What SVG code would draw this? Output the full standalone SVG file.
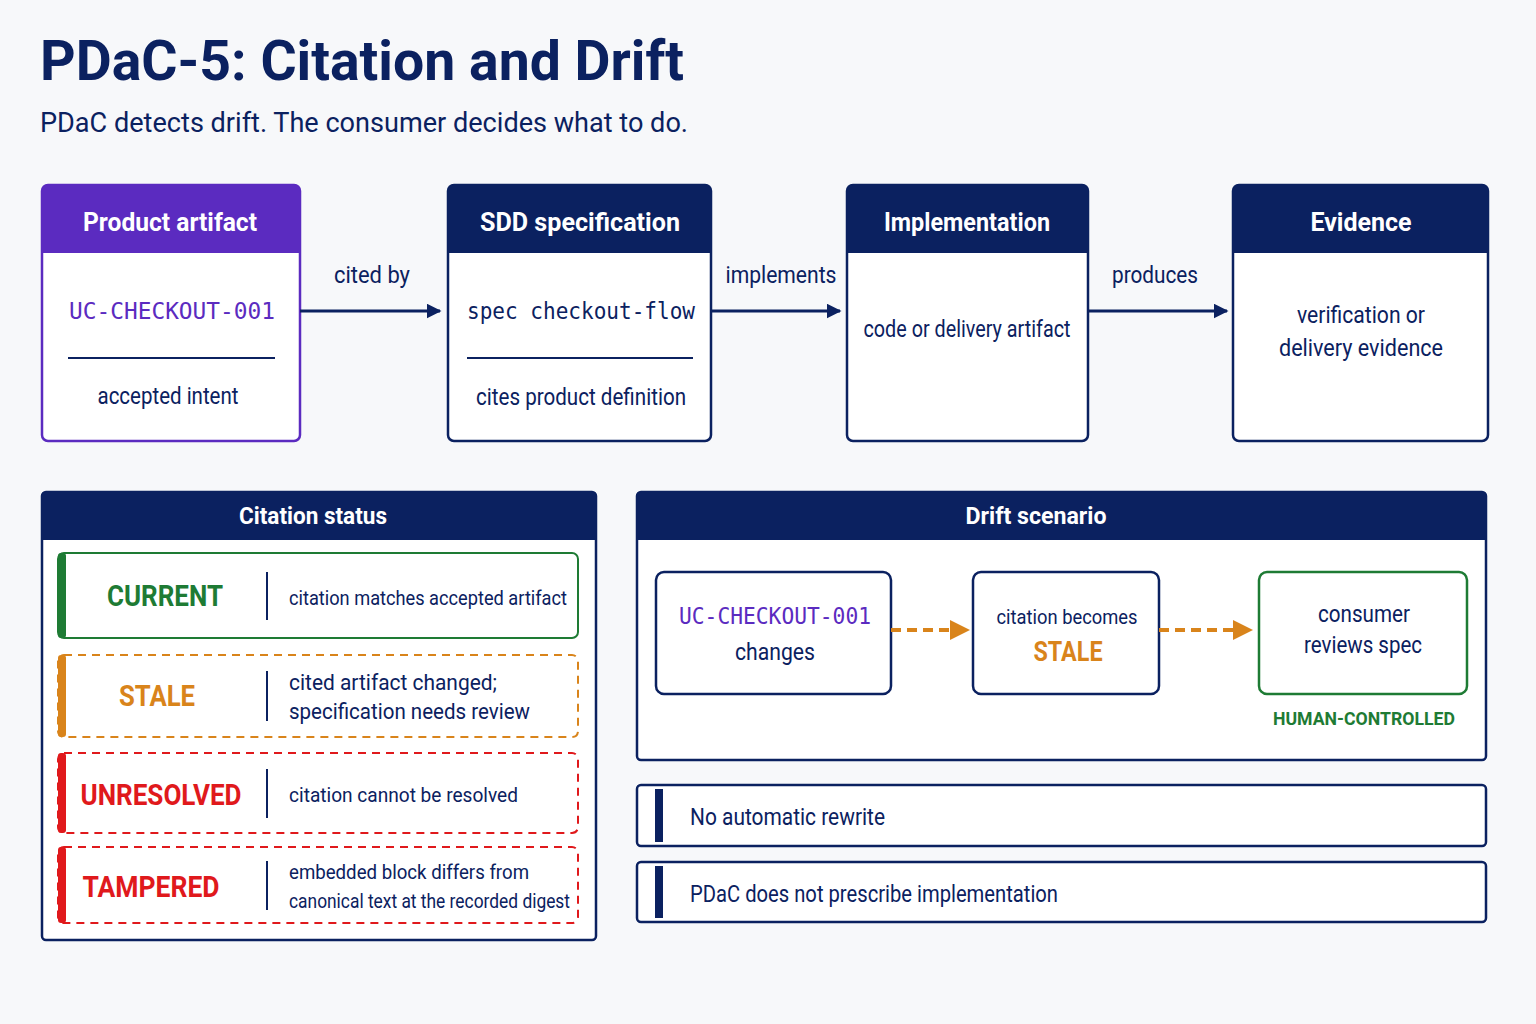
<svg xmlns="http://www.w3.org/2000/svg" width="1536" height="1024" viewBox="0 0 1536 1024">
<style>
text{font-family:Roboto,"Liberation Sans",sans-serif;fill:#0b2160}
.t{font-size:24px}
.h{font-size:25px;font-weight:bold;fill:#fff}
.m{font-family:"DejaVu Sans Mono","Liberation Mono",monospace;font-size:23px}
.box{fill:#fff;stroke:#0b2160;stroke-width:2.5}
.hd{fill:#0b2160}
.ln{stroke:#0b2160;stroke-width:2}
.st{font-size:30px;font-weight:bold}
</style>
<defs>
<marker id="a" viewBox="0 0 10 10" refX="9" refY="5" markerWidth="5" markerHeight="5" orient="auto"><path d="M0,0L10,5L0,10z" fill="#0b2160"/></marker>
<marker id="o" viewBox="0 0 10 10" refX="9" refY="5" markerWidth="5" markerHeight="5" orient="auto"><path d="M0,0L10,5L0,10z" fill="#d9841b"/></marker>
</defs>
<rect width="1536" height="1024" fill="#f7f8fa"/>
<text x="40" y="80" style="font-size:56px;font-weight:bold" textLength="644" lengthAdjust="spacingAndGlyphs">PDaC-5: Citation and Drift</text>
<text x="40" y="132" style="font-size:27px" textLength="648" lengthAdjust="spacingAndGlyphs">PDaC detects drift. The consumer decides what to do.</text>

<g id="product">
<rect class="box" x="42" y="185" width="258" height="256" rx="6" style="stroke:#5b2bc0"/>
<path d="M42,191a6,6 0 0 1 6,-6h246a6,6 0 0 1 6,6v62h-258z" fill="#5b2bc0"/>
<text class="h" x="170" y="231" text-anchor="middle" textLength="174" lengthAdjust="spacingAndGlyphs">Product artifact</text>
<text class="m" x="172" y="319" text-anchor="middle" style="fill:#5b2bc0" textLength="206" lengthAdjust="spacingAndGlyphs">UC-CHECKOUT-001</text>
<line class="ln" x1="68" y1="358" x2="275" y2="358" stroke-width="1.5"/>
<text class="t" x="168" y="404" text-anchor="middle" textLength="141" lengthAdjust="spacingAndGlyphs">accepted intent</text>
</g>
<g id="sdd">
<rect class="box" x="448" y="185" width="263" height="256" rx="6"/>
<path d="M448,191a6,6 0 0 1 6,-6h251a6,6 0 0 1 6,6v62h-263z" class="hd"/>
<text class="h" x="580" y="231" text-anchor="middle" textLength="200" lengthAdjust="spacingAndGlyphs">SDD specification</text>
<text class="m" x="581" y="319" text-anchor="middle" textLength="228" lengthAdjust="spacingAndGlyphs">spec checkout-flow</text>
<line class="ln" x1="467" y1="358" x2="693" y2="358" stroke-width="1.5"/>
<text class="t" x="581" y="405" text-anchor="middle" textLength="210" lengthAdjust="spacingAndGlyphs">cites product definition</text>
</g>
<g id="impl">
<rect class="box" x="847" y="185" width="241" height="256" rx="6"/>
<path d="M847,191a6,6 0 0 1 6,-6h229a6,6 0 0 1 6,6v62h-241z" class="hd"/>
<text class="h" x="967" y="231" text-anchor="middle" textLength="166" lengthAdjust="spacingAndGlyphs">Implementation</text>
<text class="t" x="967" y="337" text-anchor="middle" textLength="207" lengthAdjust="spacingAndGlyphs">code or delivery artifact</text>
</g>
<g id="evidence">
<rect class="box" x="1233" y="185" width="255" height="256" rx="6"/>
<path d="M1233,191a6,6 0 0 1 6,-6h243a6,6 0 0 1 6,6v62h-255z" class="hd"/>
<text class="h" x="1361" y="231" text-anchor="middle">Evidence</text>
<text class="t" x="1361" y="323" text-anchor="middle" textLength="128" lengthAdjust="spacingAndGlyphs">verification or</text>
<text class="t" x="1361" y="356" text-anchor="middle" textLength="164" lengthAdjust="spacingAndGlyphs">delivery evidence</text>
</g>

<g id="citation-status">
<rect class="box" x="42" y="492" width="554" height="448" rx="4"/>
<path d="M42,496a4,4 0 0 1 4,-4h546a4,4 0 0 1 4,4v44h-554z" class="hd"/>
<text class="h" x="313" y="524" text-anchor="middle" style="font-size:24px" textLength="148" lengthAdjust="spacingAndGlyphs">Citation status</text>
</g>
<g id="current">
<rect x="58" y="553" width="520" height="85" rx="6" fill="#fff" stroke="#1e7b34" stroke-width="2"/>
<rect x="58" y="553" width="8" height="85" rx="3" fill="#1e7b34"/>
<text class="st" x="165" y="606" text-anchor="middle" style="fill:#1e7b34" textLength="116" lengthAdjust="spacingAndGlyphs">CURRENT</text>
<line class="ln" x1="267" y1="572" x2="267" y2="620"/>
<text class="t" x="289" y="605" style="font-size:21px" textLength="278" lengthAdjust="spacingAndGlyphs">citation matches accepted artifact</text>
</g>
<g id="stale">
<rect x="58" y="655" width="520" height="82" rx="6" fill="#fff" stroke="#d9841b" stroke-width="2" stroke-dasharray="8,6"/>
<rect x="58" y="655" width="8" height="82" rx="3" fill="#d9841b"/>
<text class="st" x="157" y="706" text-anchor="middle" style="fill:#d9841b" textLength="76" lengthAdjust="spacingAndGlyphs">STALE</text>
<line class="ln" x1="267" y1="671" x2="267" y2="721"/>
<text class="t" x="289" y="690" style="font-size:22px" textLength="208" lengthAdjust="spacingAndGlyphs">cited artifact changed;</text>
<text class="t" x="289" y="719" style="font-size:22px" textLength="241" lengthAdjust="spacingAndGlyphs">specification needs review</text>
</g>
<g id="unresolved">
<rect x="58" y="753" width="520" height="80" rx="6" fill="#fff" stroke="#e0191c" stroke-width="2" stroke-dasharray="8,6"/>
<rect x="58" y="753" width="8" height="80" rx="3" fill="#e0191c"/>
<text class="st" x="161" y="805" text-anchor="middle" style="fill:#e0191c" textLength="161" lengthAdjust="spacingAndGlyphs">UNRESOLVED</text>
<line class="ln" x1="267" y1="769" x2="267" y2="818"/>
<text class="t" x="289" y="802" style="font-size:21px" textLength="229" lengthAdjust="spacingAndGlyphs">citation cannot be resolved</text>
</g>
<g id="tampered">
<rect x="58" y="847" width="520" height="76" rx="6" fill="#fff" stroke="#e0191c" stroke-width="2" stroke-dasharray="8,6"/>
<rect x="58" y="847" width="8" height="76" rx="3" fill="#e0191c"/>
<text class="st" x="151" y="897" text-anchor="middle" style="fill:#e0191c" textLength="137" lengthAdjust="spacingAndGlyphs">TAMPERED</text>
<line class="ln" x1="267" y1="861" x2="267" y2="910"/>
<text class="t" x="289" y="879" style="font-size:20px" textLength="240" lengthAdjust="spacingAndGlyphs">embedded block differs from</text>
<text class="t" x="289" y="908" style="font-size:20px" textLength="281" lengthAdjust="spacingAndGlyphs">canonical text at the recorded digest</text>
</g>

<g id="drift-scenario">
<rect class="box" x="637" y="492" width="849" height="268" rx="4"/>
<path d="M637,496a4,4 0 0 1 4,-4h841a4,4 0 0 1 4,4v44h-849z" class="hd"/>
<text class="h" x="1036" y="524" text-anchor="middle" style="font-size:24px" textLength="141" lengthAdjust="spacingAndGlyphs">Drift scenario</text>
</g>
<g id="d1">
<rect class="box" x="656" y="572" width="235" height="122" rx="8"/>
<text class="m" x="775" y="624" text-anchor="middle" style="fill:#5b2bc0" textLength="192" lengthAdjust="spacingAndGlyphs">UC-CHECKOUT-001</text>
<text class="t" x="775" y="660" text-anchor="middle" textLength="80" lengthAdjust="spacingAndGlyphs">changes</text>
</g>
<g id="d2">
<rect class="box" x="973" y="572" width="186" height="122" rx="8"/>
<text class="t" x="1067" y="624" text-anchor="middle" style="font-size:21px" textLength="141" lengthAdjust="spacingAndGlyphs">citation becomes</text>
<text class="st" x="1068" y="661" text-anchor="middle" style="fill:#d9841b;font-size:27px" textLength="69" lengthAdjust="spacingAndGlyphs">STALE</text>
</g>
<g id="d3">
<rect class="box" x="1259" y="572" width="208" height="122" rx="8" style="stroke:#1e7b34"/>
<text class="t" x="1364" y="622" text-anchor="middle" style="font-size:23px" textLength="92" lengthAdjust="spacingAndGlyphs">consumer</text>
<text class="t" x="1363" y="653" text-anchor="middle" style="font-size:23px" textLength="118" lengthAdjust="spacingAndGlyphs">reviews spec</text>
<text x="1364" y="725" text-anchor="middle" style="fill:#1e7b34;font-size:19px;font-weight:bold" textLength="182" lengthAdjust="spacingAndGlyphs">HUMAN-CONTROLLED</text>
</g>
<g id="note1">
<rect class="box" x="637" y="785" width="849" height="61" rx="4" stroke-width="2"/>
<rect x="655" y="789" width="8" height="53" fill="#0b2160"/>
<text class="t" x="690" y="825" style="font-size:23px" textLength="195" lengthAdjust="spacingAndGlyphs">No automatic rewrite</text>
</g>
<g id="note2">
<rect class="box" x="637" y="862" width="849" height="60" rx="4" stroke-width="2"/>
<rect x="655" y="866" width="8" height="52" fill="#0b2160"/>
<text class="t" x="690" y="902" style="font-size:23px" textLength="368" lengthAdjust="spacingAndGlyphs">PDaC does not prescribe implementation</text>
</g>

<g id="connectors">
<line x1="300" y1="311" x2="440" y2="311" stroke="#0b2160" stroke-width="3" marker-end="url(#a)"/>
<line x1="711" y1="311" x2="840" y2="311" stroke="#0b2160" stroke-width="3" marker-end="url(#a)"/>
<line x1="1088" y1="311" x2="1227" y2="311" stroke="#0b2160" stroke-width="3" marker-end="url(#a)"/>
<text class="t" x="372" y="283" text-anchor="middle" textLength="76" lengthAdjust="spacingAndGlyphs">cited by</text>
<text class="t" x="781" y="283" text-anchor="middle" textLength="111" lengthAdjust="spacingAndGlyphs">implements</text>
<text class="t" x="1155" y="283" text-anchor="middle" textLength="86" lengthAdjust="spacingAndGlyphs">produces</text>
<line x1="891" y1="630" x2="968" y2="630" stroke="#d9841b" stroke-width="4" stroke-dasharray="10,6" marker-end="url(#o)"/>
<line x1="1159" y1="630" x2="1251" y2="630" stroke="#d9841b" stroke-width="4" stroke-dasharray="10,6" marker-end="url(#o)"/>
</g>
</svg>
